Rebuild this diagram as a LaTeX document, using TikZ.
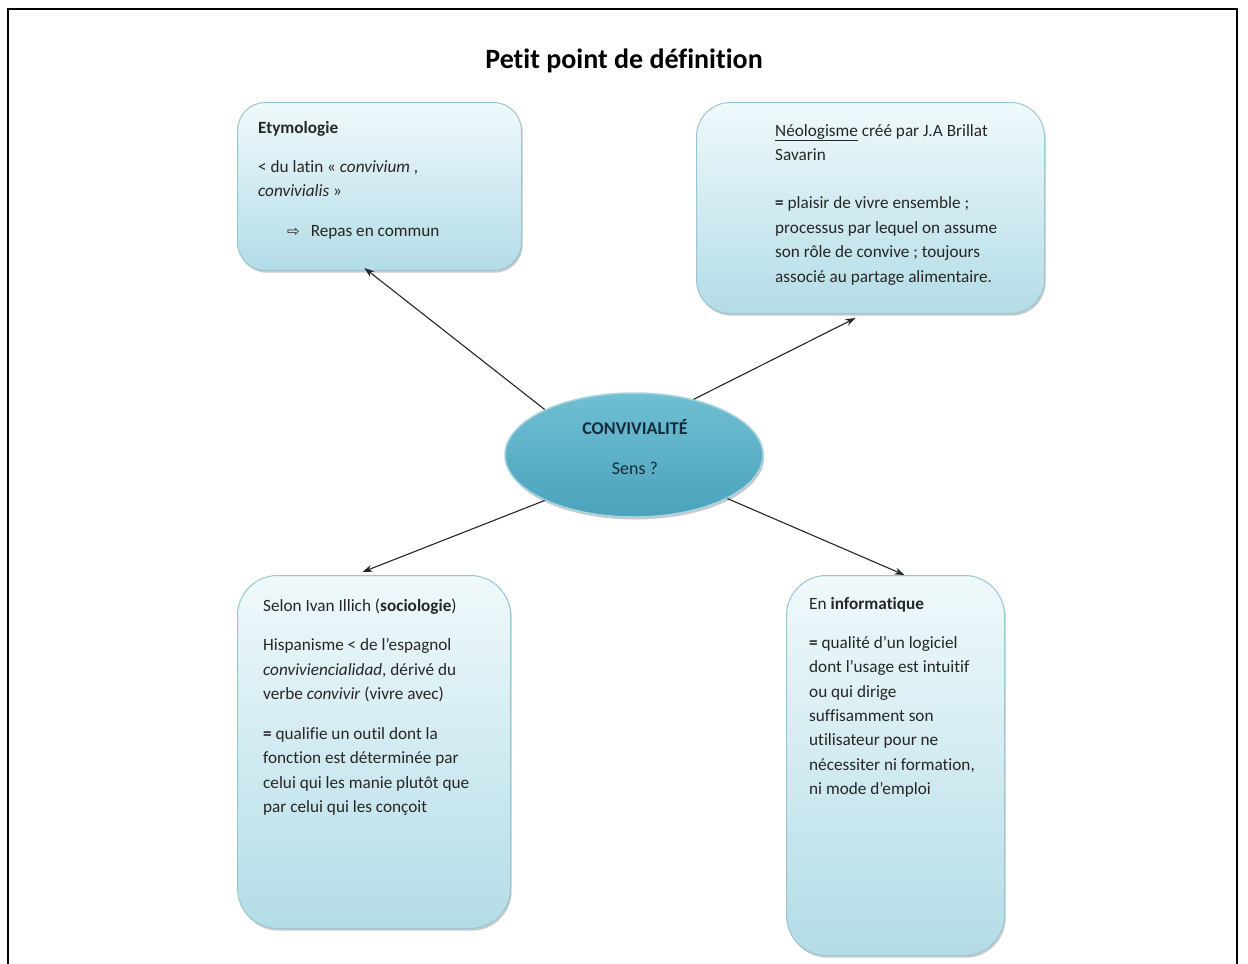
\documentclass[tikz,border=0pt]{standalone}
\usepackage{fontspec}
\setmainfont{Carlito}[Ligatures=NoCommon]
\newfontfamily\dejavu{DejaVu Sans}
\usetikzlibrary{shapes.geometric,shadows,arrows.meta,calc}
\definecolor{boxtop}{HTML}{F0F9FB}
\definecolor{boxbot}{HTML}{B3DCE7}
\definecolor{boxline}{HTML}{98C6D2}
\definecolor{elltop}{HTML}{70BFD3}
\definecolor{ellbot}{HTML}{4AA2BB}
\definecolor{ellline}{HTML}{A5D3DF}
\definecolor{txtcol}{HTML}{262626}
\definecolor{darktxt}{HTML}{132B3D}
\begin{document}
\begin{tikzpicture}[x=1pt,y=-1pt,
  card/.style={draw=boxline, line width=1pt, rounded corners=#1,
    top color=boxtop, bottom color=boxbot, inner sep=0pt, anchor=north west,
    drop shadow={shadow xshift=1.2pt, shadow yshift=-2.2pt, opacity=0.35, fill=black!60}},
  txt/.style={font=\fontsize{17.2}{24.4}\selectfont, align=left, inner sep=0pt,
    text=txtcol, anchor=north west},
  conn/.style={-{Stealth[length=10pt,width=7pt]}, line width=1.1pt, black!85},
  ctext/.style={font=\fontsize{18}{20}\selectfont, text=darktxt, inner sep=0pt}]
\useasboundingbox (0,0) rectangle (1248,964);
\draw[line width=2.5pt] (8,966) -- (8,9) -- (1237,9) -- (1237,966);

\node[font=\bfseries\fontsize{28}{32}\selectfont] (title) at (624,61) {Petit point de définition};

% boxes
\node[card=28pt, minimum width=284pt, minimum height=168pt] (etym) at (237,102) {};
\node[card=34pt, minimum width=348pt, minimum height=211pt] (neo) at (696,102) {};
\node[card=40pt, minimum width=273pt, minimum height=353pt] (soc) at (237,575) {};
\node[card=40pt, minimum width=218pt, minimum height=380pt] (info) at (786,575) {};

% central ellipse
\node[ellipse, minimum width=258pt, minimum height=124pt, draw=ellline, line width=1.5pt,
  top color=elltop, bottom color=ellbot, inner sep=0pt,
  drop shadow={shadow xshift=1.2pt, shadow yshift=-2.5pt, opacity=0.35, fill=black!60}] (conv) at (634,455) {};
\node[ctext, font=\bfseries\fontsize{18}{20}\selectfont] (convt) at (635,427) {CONVIVIALITÉ};
\node[ctext] (sens) at (635,468) {Sens ?};

% texts
\node[txt] (etymtxt) at (258,121) {\textbf{Etymologie}\\[14.6pt]
< du latin « \textit{convivium} ,\\
\textit{convivialis} »\\[15.6pt]
\hspace*{29pt}{\dejavu\fontsize{15}{16}\selectfont ⇨}\hspace{11pt}Repas en commun};

\node[txt] (neotxt) at (775,124) {\underline{Néologisme} créé par J.A Brillat\\
Savarin\\[24pt]
\textbf{=} plaisir de vivre ensemble ;\\
processus par lequel on assume\\
son rôle de convive ; toujours\\
associé au partage alimentaire.};

\node[txt] (soctxt) at (263,599) {Selon Ivan Illich (\textbf{sociologie})\\[14.6pt]
Hispanisme < de l'espagnol\\
\textit{conviviencialidad}, dérivé du\\
verbe \textit{convivir} (vivre avec)\\[15.6pt]
\textbf{=} qualifie un outil dont la\\
fonction est déterminée par\\
celui qui les manie plutôt que\\
par celui qui les conçoit};

\node[txt] (infotxt) at (809,597) {En \textbf{informatique}\\[14.6pt]
\textbf{=} qualité d’un logiciel\\
dont l’usage est intuitif\\
ou qui dirige\\
suffisamment son\\
utilisateur pour ne\\
nécessiter ni formation,\\
ni mode d’emploi};

% connectors
\draw[conn] (conv.153) -- ($(etym.south west)!0.447!(etym.south east)+(0,-3)$);
\draw[conn] (conv.43) -- ($(neo.south west)!0.457!(neo.south east)+(0,4)$);
\draw[conn] (conv.207) -- ($(soc.north west)!0.458!(soc.north east)+(0,-3)$);
\draw[conn] (conv.-25) -- ($(info.north west)!0.541!(info.north east)$);
\end{tikzpicture}
\end{document}
